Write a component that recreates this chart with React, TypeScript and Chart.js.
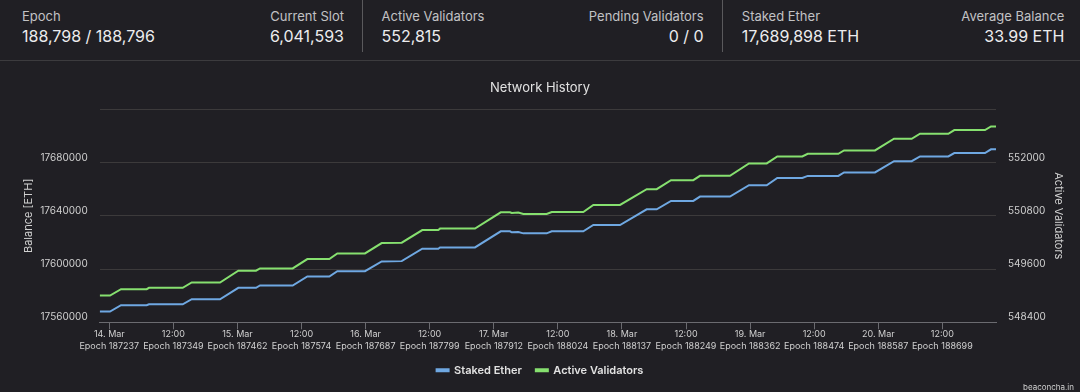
import React, { useEffect, useRef } from "react";
import { Chart, registerables } from "chart.js";

Chart.register(...registerables);

// ---- data ----
const timeHours = [
  -1.8, 0.13, 2.19, 7.0, 7.43, 13.75, 15.43, 20.73, 24.16, 27.47, 28.22, 34.34,
  37.08, 41.2, 42.7, 47.88, 51.01, 54.76, 58.61, 61.61, 61.93, 68.48, 73.3, 75.04,
  75.36, 76.59, 77.53, 81.91, 82.85, 88.76, 90.64, 95.64, 100.64, 102.51, 105.19,
  109.36, 110.62, 116.23, 119.79, 123.11, 125.09, 129.78, 130.79, 136.52, 137.59,
  143.39, 146.95, 150.26, 151.82, 157.12, 158.24, 163.99, 165.11, 166.05,
];

const stakedEther = [
  17568060, 17568060, 17572806, 17572806, 17573559, 17573559, 17577326, 17577326,
  17585914, 17585914, 17587646, 17587646, 17594426, 17594426, 17598418, 17598418,
  17605725, 17605950, 17615292, 17615292, 17616272, 17616272, 17628324, 17628324,
  17627571, 17627797, 17626818, 17626818, 17628324, 17628324, 17633070, 17633070,
  17644897, 17644897, 17651149, 17651149, 17654464, 17654464, 17662976, 17662976,
  17668475, 17668475, 17669982, 17669982, 17672543, 17672543, 17681055, 17681055,
  17684596, 17684596, 17687082, 17687082, 17689898, 17689898,
];

const activeValidators = [
  549003, 549003, 549146, 549146, 549177, 549177, 549297, 549297,
  549562, 549562, 549614, 549614, 549824, 549824, 549953, 549953,
  550185, 550194, 550479, 550479, 550511, 550511, 550879, 550879,
  550863, 550872, 550841, 550841, 550886, 550886, 551044, 551044,
  551399, 551399, 551602, 551602, 551700, 551700, 551980, 551980,
  552138, 552138, 552197, 552197, 552274, 552274, 552536, 552536,
  552649, 552649, 552732, 552732, 552815, 552815,
];

const tickHours = [0, 12, 24, 36, 48, 60, 72, 84, 96, 108, 120, 132, 144, 156];
const dayLabels = [
  "14. Mar", "12:00", "15. Mar", "12:00", "16. Mar", "12:00", "17. Mar",
  "12:00", "18. Mar", "12:00", "19. Mar", "12:00", "20. Mar", "12:00",
];
const epochLabels = [
  "Epoch 187237", "Epoch 187349", "Epoch 187462", "Epoch 187574",
  "Epoch 187687", "Epoch 187799", "Epoch 187912", "Epoch 188024",
  "Epoch 188137", "Epoch 188249", "Epoch 188362", "Epoch 188474",
  "Epoch 188587", "Epoch 188699",
];

const balanceMin = 17560000;
const balanceMax = 17720000;
const balanceStep = 40000;
const validatorsMin = 548400;
const validatorsMax = 553200;
const validatorsStep = 1200;

const statLabels = [
  "Epoch", "Current Slot", "Active Validators", "Pending Validators", "Staked Ether", "Average Balance",
];
const statValues = [
  "188,798 / 188,796", "6,041,593", "552,815", "0 / 0", "17,689,898 ETH", "33.99 ETH",
];

// ---- styles ----
const BG = "#201f24";
const BLUE = "#6fa8e2";
const GREEN = "#86e06f";
const GRID = "#3c3a3b";
const AXIS = "#6b6b70";
const TEXT = "#d0d0d0";
const FONT = "Inter, 'Noto Sans', sans-serif";

const statPos: { left?: number; right?: number }[] = [
  { left: 22 },
  { right: 1080 - 344 },
  { left: 381.5 },
  { right: 1080 - 703.6 },
  { left: 741.8 },
  { right: 1080 - 1064.4 },
];

export default function App() {
  const canvasRef = useRef<HTMLCanvasElement>(null);

  useEffect(() => {
    document.body.style.margin = "0";
    document.body.style.background = BG;
    Chart.defaults.font.family = FONT;
    const canvas = canvasRef.current!;
    const chart = new Chart(canvas, {
      type: "line",
      data: {
        datasets: [
          {
            label: "Staked Ether",
            data: timeHours.map((x, i) => ({ x, y: stakedEther[i] })),
            borderColor: BLUE,
            backgroundColor: BLUE,
            borderWidth: 2,
            pointRadius: 0,
            tension: 0,
            yAxisID: "y",
          },
          {
            label: "Active Validators",
            data: timeHours.map((x, i) => ({ x, y: activeValidators[i] })),
            borderColor: GREEN,
            backgroundColor: GREEN,
            borderWidth: 2,
            pointRadius: 0,
            tension: 0,
            yAxisID: "y1",
          },
        ],
      },
      options: {
        animation: false,
        responsive: false,
        layout: { padding: { bottom: 6.3 } },
        plugins: {
          title: {
            display: true,
            text: "Network History",
            color: "#e2e2e2",
            font: { size: 13, weight: "normal" },
            padding: { top: 19, bottom: 13.7 },
          },
          legend: {
            position: "bottom",
            labels: {
              boxWidth: 12,
              boxHeight: 2,
              padding: 14,
              color: "#e2e2e2",
              font: { size: 11, weight: "600" },
            },
          },
          tooltip: { enabled: false },
        },
        scales: {
          x: {
            type: "linear",
            min: timeHours[0],
            max: timeHours[timeHours.length - 1],
            afterBuildTicks: (s: any) => {
              s.ticks = tickHours.map((v) => ({ value: v }));
            },
            ticks: {
              autoSkip: false,
              maxRotation: 0,
              minRotation: 0,
              padding: -1,
              color: TEXT,
              font: { size: 9, lineHeight: 1.3 },
              callback: (_v: any, i: number) => [dayLabels[i], epochLabels[i]],
            },
            grid: { drawOnChartArea: false, tickLength: 7, color: AXIS },
            border: { color: AXIS },
          },
          y: {
            position: "left",
            min: balanceMin,
            max: balanceMax,
            ticks: {
              stepSize: balanceStep,
              padding: 12,
              labelOffset: -5,
              color: TEXT,
              font: { size: 10 },
              callback: (v: any) => (v === balanceMax ? "" : String(v)),
            },
            grid: { color: GRID, drawTicks: false },
            border: { display: false },
            title: {
              display: true,
              text: "Balance [ETH]",
              color: TEXT,
              font: { size: 11 },
              padding: { top: 21.7, bottom: 0 },
            },
            afterFit: (s: any) => {
              s.width = 99.7;
            },
          },
          y1: {
            position: "right",
            min: validatorsMin,
            max: validatorsMax,
            ticks: {
              stepSize: validatorsStep,
              padding: 12,
              labelOffset: -5,
              color: TEXT,
              font: { size: 10 },
              callback: (v: any) => (v === validatorsMax ? "" : String(v)),
            },
            grid: { drawOnChartArea: false, drawTicks: false },
            border: { display: false },
            title: {
              display: true,
              text: "Active Validators",
              color: TEXT,
              font: { size: 11 },
              padding: { top: 15.4, bottom: 0 },
            },
            afterFit: (s: any) => {
              s.width = 84;
            },
          },
        },
      },
    } as any);
    return () => chart.destroy();
  }, []);

  return (
    <div style={{ width: 1080, height: 392, background: BG, fontFamily: FONT, position: "relative", overflow: "hidden" }}>
      <div style={{ position: "relative", height: 60, borderBottom: "1px solid #3c3b3e" }}>
        {statLabels.map((label, i) => (
          <React.Fragment key={label}>
            <div
              style={{
                position: "absolute",
                top: 8,
                ...statPos[i],
                fontSize: 13,
                lineHeight: "17px",
                color: "#c2c2c4",
                whiteSpace: "nowrap",
                textAlign: statPos[i].right !== undefined ? "right" : "left",
              }}
            >
              {label}
            </div>
            <div
              style={{
                position: "absolute",
                top: 26,
                ...statPos[i],
                fontSize: 16,
                lineHeight: "20px",
                color: "#ececee",
                whiteSpace: "nowrap",
                textAlign: statPos[i].right !== undefined ? "right" : "left",
              }}
            >
              {statValues[i]}
            </div>
          </React.Fragment>
        ))}
        <div style={{ position: "absolute", left: 362, top: 0, width: 1, height: 52, background: "#5a595c" }} />
        <div style={{ position: "absolute", left: 722, top: 0, width: 1, height: 52, background: "#5a595c" }} />
      </div>
      <div style={{ position: "relative", width: 1080, height: 331 }}>
        <canvas ref={canvasRef} width={1080} height={331} style={{ display: "block" }} />
        <div
          style={{
            position: "absolute",
            right: 6,
            top: 321,
            fontSize: 8,
            lineHeight: "10px",
            color: "#cfcfcf",
          }}
        >
          beaconcha.in
        </div>
      </div>
    </div>
  );
}
